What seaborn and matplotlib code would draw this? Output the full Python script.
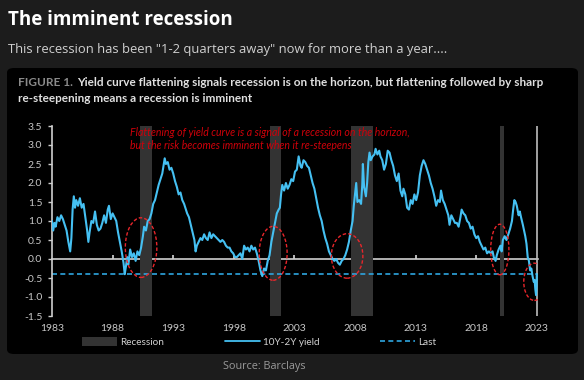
import numpy as np
import pandas as pd
import seaborn as sns
import matplotlib.pyplot as plt
from matplotlib.patches import Ellipse, FancyBboxPatch, Patch
from matplotlib.lines import Line2D

# 10Y-2Y spread (decimal year, %)
years = [1983.0, 1983.1, 1983.2, 1983.3, 1983.45, 1983.6, 1983.75, 1983.9, 1984.05, 1984.2,
         1984.35, 1984.5, 1984.6, 1984.7, 1984.8, 1984.9, 1985.0, 1985.15, 1985.3, 1985.45,
         1985.6, 1985.75, 1985.9, 1986.0, 1986.1, 1986.25, 1986.4, 1986.55, 1986.7, 1986.85,
         1987.0, 1987.15, 1987.3, 1987.45, 1987.6, 1987.7, 1987.85, 1988.0, 1988.15, 1988.3,
         1988.45, 1988.6, 1988.75, 1988.9, 1989.0, 1989.1, 1989.2, 1989.3, 1989.45, 1989.6,
         1989.75, 1989.9, 1990.05, 1990.2, 1990.35, 1990.5, 1990.6, 1990.75, 1990.9, 1991.05,
         1991.2, 1991.35, 1991.5, 1991.65, 1991.8, 1991.95, 1992.1, 1992.2, 1992.3, 1992.4,
         1992.55, 1992.7, 1992.85, 1993.0, 1993.15, 1993.3, 1993.45, 1993.6, 1993.75, 1993.9,
         1994.0, 1994.15, 1994.3, 1994.45, 1994.6, 1994.75, 1994.85, 1994.95, 1995.1, 1995.25,
         1995.4, 1995.55, 1995.7, 1995.85, 1996.0, 1996.15, 1996.3, 1996.45, 1996.6, 1996.75,
         1996.9, 1997.05, 1997.2, 1997.35, 1997.5, 1997.65, 1997.8, 1997.95, 1998.1, 1998.25,
         1998.4, 1998.55, 1998.7, 1998.85, 1999.0, 1999.15, 1999.3, 1999.45, 1999.6, 1999.75,
         1999.9, 2000.05, 2000.2, 2000.35, 2000.5, 2000.65, 2000.8, 2000.95, 2001.1, 2001.25,
         2001.4, 2001.55, 2001.7, 2001.8, 2001.9, 2002.0, 2002.15, 2002.3, 2002.45, 2002.6,
         2002.75, 2002.9, 2003.05, 2003.2, 2003.35, 2003.5, 2003.6, 2003.75, 2003.9, 2004.05,
         2004.2, 2004.35, 2004.5, 2004.65, 2004.8, 2004.95, 2005.1, 2005.25, 2005.4, 2005.55,
         2005.7, 2005.85, 2006.0, 2006.15, 2006.3, 2006.45, 2006.6, 2006.75, 2006.9, 2007.05,
         2007.2, 2007.35, 2007.5, 2007.65, 2007.8, 2007.9, 2008.0, 2008.1, 2008.2, 2008.35,
         2008.5, 2008.6, 2008.65, 2008.75, 2008.9, 2009.0, 2009.1, 2009.2, 2009.3, 2009.45,
         2009.6, 2009.7, 2009.85, 2010.0, 2010.1, 2010.25, 2010.4, 2010.55, 2010.7, 2010.85,
         2011.0, 2011.15, 2011.3, 2011.45, 2011.6, 2011.75, 2011.9, 2012.0, 2012.15, 2012.3,
         2012.45, 2012.6, 2012.75, 2012.9, 2013.05, 2013.2, 2013.35, 2013.5, 2013.65, 2013.8,
         2013.95, 2014.1, 2014.25, 2014.4, 2014.55, 2014.7, 2014.85, 2015.0, 2015.1, 2015.25,
         2015.4, 2015.55, 2015.7, 2015.8, 2015.95, 2016.1, 2016.25, 2016.4, 2016.55, 2016.7,
         2016.8, 2016.95, 2017.1, 2017.25, 2017.4, 2017.55, 2017.7, 2017.85, 2018.0, 2018.15,
         2018.3, 2018.45, 2018.6, 2018.75, 2018.9, 2019.05, 2019.2, 2019.35, 2019.45, 2019.6,
         2019.7, 2019.85, 2020.0, 2020.1, 2020.2, 2020.35, 2020.5, 2020.65, 2020.8, 2020.95,
         2021.05, 2021.15, 2021.25, 2021.35, 2021.5, 2021.6, 2021.7, 2021.85, 2021.95, 2022.05,
         2022.15, 2022.25, 2022.35, 2022.45, 2022.55, 2022.65, 2022.75, 2022.82, 2022.88, 2022.94,
         2022.98, 2023.0]
spread = [1.0, 0.75, 0.95, 0.85, 1.1, 1.0, 1.15, 1.05, 0.9, 0.75,
          0.45, 0.2, 0.55, 1.3, 1.65, 1.35, 1.55, 1.4, 1.6, 1.35,
          1.45, 1.1, 0.75, 0.45, 0.7, 1.0, 0.95, 1.25, 0.9, 0.75,
          0.8, 0.95, 1.15, 0.95, 1.3, 1.4, 1.05, 1.2, 1.1, 1.0,
          0.7, 0.45, 0.2, -0.1, -0.4, -0.2, 0.05, -0.15, 0.25, 0.05,
          0.15, -0.05, 0.2, 0.1, 0.3, 0.6, 0.85, 0.75, 1.0, 1.05,
          1.2, 1.45, 1.55, 1.75, 1.95, 2.1, 2.25, 2.45, 2.65, 2.5,
          2.55, 2.35, 2.4, 2.25, 2.05, 1.9, 1.7, 1.75, 1.55, 1.45,
          1.35, 1.2, 1.1, 0.9, 0.7, 0.5, 0.2, 0.35, 0.45, 0.55,
          0.5, 0.65, 0.55, 0.5, 0.7, 0.55, 0.65, 0.6, 0.55, 0.5,
          0.45, 0.5, 0.45, 0.35, 0.3, 0.3, 0.2, 0.15, 0.05, 0.05,
          0.1, 0.15, 0.0, 0.35, 0.25, 0.3, 0.2, 0.35, 0.25, 0.3,
          0.15, -0.05, -0.3, -0.45, -0.25, -0.3, -0.05, 0.1, 0.45, 0.7,
          0.95, 1.2, 1.3, 1.35, 1.7, 1.95, 1.8, 2.0, 1.85, 1.95,
          2.1, 2.05, 2.3, 2.35, 2.7, 2.45, 2.4, 2.6, 2.55, 2.45,
          2.4, 2.2, 2.0, 1.85, 1.6, 1.35, 1.15, 1.0, 0.75, 0.55,
          0.4, 0.2, 0.1, 0.0, -0.05, 0.0, -0.1, -0.15, -0.05, 0.0,
          0.1, 0.25, 0.45, 0.75, 1.0, 1.4, 1.7, 2.0, 1.5, 1.55,
          1.45, 1.95, 2.5, 1.9, 1.65, 2.0, 2.55, 2.8, 2.6, 2.7,
          2.75, 2.9, 2.75, 2.85, 2.7, 2.6, 2.35, 2.5, 2.85, 2.8,
          2.6, 2.45, 2.2, 2.05, 2.25, 1.8, 1.65, 1.85, 1.7, 1.35,
          1.3, 1.55, 1.45, 1.7, 1.55, 1.75, 2.2, 2.45, 2.6, 2.5,
          2.35, 2.2, 2.0, 1.85, 1.65, 1.4, 1.55, 1.5, 1.8, 1.55,
          1.45, 1.3, 1.15, 0.9, 1.15, 1.05, 0.95, 0.95, 0.85, 1.1,
          1.3, 1.2, 1.15, 1.0, 0.95, 0.8, 0.85, 0.65, 0.55, 0.6,
          0.45, 0.35, 0.25, 0.3, 0.15, 0.2, 0.15, 0.2, 0.05, -0.05,
          0.1, 0.25, 0.35, 0.2, 0.5, 0.6, 0.5, 0.65, 0.8, 1.0,
          1.3, 1.55, 1.5, 1.4, 1.15, 1.25, 1.1, 0.9, 0.75, 0.6,
          0.4, 0.05, -0.05, -0.3, -0.25, -0.45, -0.6, -0.55, -0.8, -0.95,
          -0.7, -0.4]
last_value = -0.4

rec_start = [1990.3, 2001.0, 2007.65, 2020.0]
rec_end = [1991.25, 2001.9, 2009.45, 2020.3]

xticks = [1983, 1988, 1993, 1998, 2003, 2008, 2013, 2018, 2023]
yticks = [-1.5, -1.0, -0.5, 0.0, 0.5, 1.0, 1.5, 2.0, 2.5, 3.0, 3.5]

df = pd.DataFrame({"year": years, "spread": spread})

sns.set_theme(style="dark")
plt.rcParams['font.family'] = ['Lato', 'DejaVu Sans']

BG = "#1c1c1c"
BLUE = "#45c0f2"
fig = plt.figure(figsize=(5.84, 3.8), dpi=100, facecolor=BG)

# black inner panel (behind the axes)
panel = FancyBboxPatch((7 / 584, 1 - 354 / 380), 571 / 584, 286 / 380,
                       boxstyle="round,pad=0,rounding_size=0.012",
                       transform=fig.transFigure, facecolor="black", edgecolor="none", zorder=-5)
fig.patches.append(panel)

fig.text(8 / 584, 1 - 20 / 380, "The imminent recession", color="white", fontsize=13.5,
         fontweight="bold", family=["Open Sans", "DejaVu Sans"], va="center")
fig.text(8 / 584, 1 - 50 / 380, 'This recession has been "1-2 quarters away" now for more than a year....',
         color="#d0d0d0", fontsize=9.4, family=["Open Sans", "DejaVu Sans"], va="center")
fig.text(264 / 584, 1 - 366 / 380, "Source: Barclays", color="#9a9a9a", fontsize=7.8,
         family=["Open Sans", "DejaVu Sans"], ha="center", va="center")

fig_lbl = fig.text(18 / 584, 1 - 82 / 380, "FIGURE 1.", color="#8a8a8a", fontsize=8.5,
                   fontweight="bold", va="center")
renderer = fig.canvas.get_renderer()
lbl_end = fig_lbl.get_window_extent(renderer).x1 / fig.bbox.width
fig.text(lbl_end + 4 / 584, 1 - 82 / 380,
         "Yield curve flattening signals recession is on the horizon, but flattening followed by sharp",
         color="#e0e0e0", fontsize=8.5, fontweight="bold", va="center")
fig.text(18 / 584, 1 - 98 / 380, "re-steepening means a recession is imminent",
         color="#e0e0e0", fontsize=8.5, fontweight="bold", va="center")

ax = fig.add_axes([52 / 584, 1 - 316 / 380, 486 / 584, 190 / 380])
ax.set_facecolor("none")

for s, e in zip(rec_start, rec_end):
    ax.axvspan(s, e, color="#333333", lw=0, zorder=1)

ax.axhline(last_value, color="#2ea6e0", lw=1.2, ls=(0, (3, 2)), zorder=2)
sns.lineplot(data=df, x="year", y="spread", color=BLUE, lw=1.5, ax=ax, zorder=3)
ax.axvline(2023, color="#bdbdbd", lw=1.2, zorder=2)

# zero line with ticks pointing up
zero_ax = ax.secondary_xaxis(0.3)
zero_ax.set_xticks(xticks[1:-1])
zero_ax.tick_params(direction="in", length=3, color="#cfcfcf", labelbottom=False, labeltop=False)
zero_ax.spines["bottom"].set_color("#cfcfcf")
zero_ax.spines["bottom"].set_linewidth(1.2)
zero_ax.spines["top"].set_visible(False)

ax.set_xlim(1983, 2023.1)
ax.set_ylim(-1.5, 3.5)
ax.set_xticks(xticks)
ax.set_yticks(yticks)
ax.set_yticklabels([f"{v:.1f}" for v in yticks])
ax.tick_params(axis="x", length=0, labelsize=7.5, colors="#c8c8c8", pad=6)
ax.tick_params(axis="y", left=True, length=3, width=1, color="#cfcfcf", labelsize=7.5,
               labelcolor="#c8c8c8", pad=4)
for side in ["top", "right", "bottom"]:
    ax.spines[side].set_visible(False)
ax.spines["left"].set_color("#cfcfcf")
ax.spines["left"].set_linewidth(1.2)
ax.set_xlabel("")
ax.set_ylabel("")
ax.grid(False)

ax.text(1989.45, 3.48,
        "Flattening of yield curve is a signal of a recession on the horizon,\n"
        "but the risk becomes imminent when it re-steepens",
        color="#d0000a", fontsize=7.6, style="italic", va="top", linespacing=1.25, zorder=6)

ellipses = [(1990.35, 0.3, 2.6, 1.57), (2001.25, 0.15, 2.3, 1.42), (2007.35, 0.08, 2.6, 1.17),
            (2019.95, 0.25, 1.5, 1.33), (2022.8, -0.6, 1.75, 0.98)]
for cx, cy, w, h in ellipses:
    ax.add_patch(Ellipse((cx, cy), w, h, fill=False, edgecolor="#e8262b", lw=1.0,
                         ls=(0, (2.5, 1.5)), zorder=4))

handles = [Patch(facecolor="#333333", edgecolor="none"),
           Line2D([], [], color=BLUE, lw=1.3),
           Line2D([], [], color="#2ea6e0", lw=1.2, ls=(0, (3, 2)))]
fig.legend(handles, ["Recession", "10Y-2Y yield", "Last"], loc="center",
           bbox_to_anchor=(259 / 584, 1 - 342 / 380), ncol=3, frameon=False, fontsize=7.2,
           labelcolor="#d0d0d0", handlelength=3.5, handleheight=1.0, columnspacing=6.1,
           handletextpad=0.3)

fig.savefig("out.png", dpi=100, facecolor=BG)
